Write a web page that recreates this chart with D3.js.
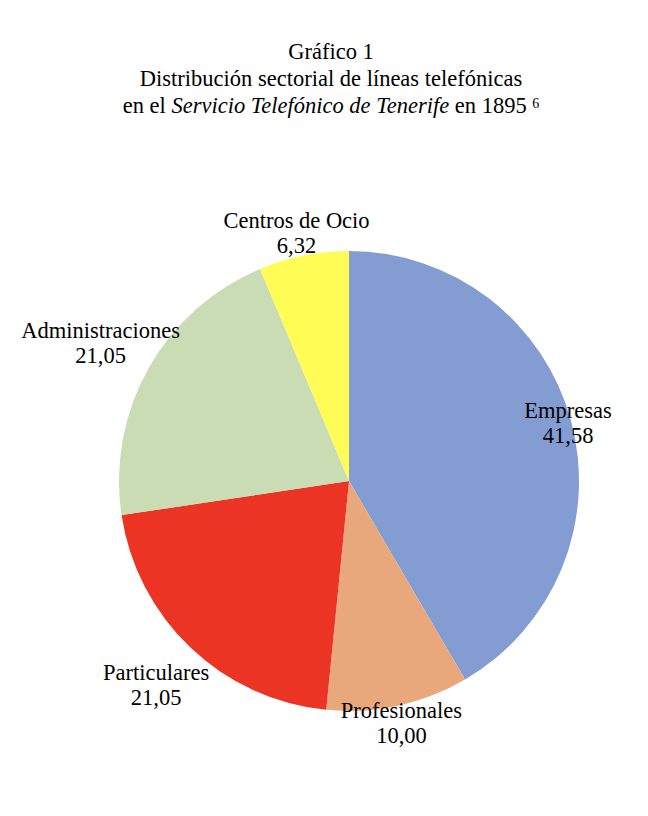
<!DOCTYPE html>
<html>
<head>
<meta charset="utf-8">
<script src="https://cdn.jsdelivr.net/npm/d3@7"></script>
<style>
  body { margin: 0; background: #fff; }
  text { font-family: "Liberation Serif", "Times New Roman", serif; fill: #000; }
</style>
</head>
<body>
<svg id="chart"></svg>
<script>
// data
var categories = ['Empresas', 'Profesionales', 'Particulares', 'Administraciones', 'Centros de Ocio'];
var values = [41.58, 10.00, 21.05, 21.05, 6.32];
var valueLabels = ['41,58', '10,00', '21,05', '21,05', '6,32'];
var colors = ['#839cd2', '#e8a87b', '#eb3424', '#c9dcb4', '#fffc55'];

// layout
var width = 648, height = 816;
var cx = 349, cy = 481, radius = 230;
var fontSize = 22.5;
// label distance from centre per slice, plus small nudges (Excel "best fit" look)
var labelRadius = [227, 246, 287, 285, 256];
var labelShift = [[0, 0], [0, 0], [5, -6], [0, 0], [-2, 1]];

var svg = d3.select('#chart')
    .attr('width', width)
    .attr('height', height);

// title
var title = svg.append('g')
    .attr('text-anchor', 'middle')
    .style('font-size', fontSize + 'px');

title.append('text').attr('x', 331).attr('y', 59).text('Gráfico 1');
title.append('text').attr('x', 331).attr('y', 86).text('Distribución sectorial de líneas telefónicas');
var t3 = title.append('text').attr('x', 331).attr('y', 113);
t3.append('tspan').text('en el ');
t3.append('tspan').style('font-style', 'italic').text('Servicio Telefónico de Tenerife');
t3.append('tspan').text(' en 1895 ');
t3.append('tspan').style('font-size', '14px').attr('dy', -5).text('6');

var data = categories.map(function (c, i) {
    return { name: c, value: values[i], label: valueLabels[i], color: colors[i] };
});

var pie = d3.pie()
    .sort(null)
    .value(function (d) { return d.value; });

var arc = d3.arc()
    .innerRadius(0)
    .outerRadius(radius);

var g = svg.append('g')
    .attr('transform', 'translate(' + cx + ',' + cy + ')');

var arcs = pie(data);

g.selectAll('path')
    .data(arcs)
    .enter()
    .append('path')
    .attr('d', arc)
    .attr('fill', function (d) { return d.data.color; });

var labels = g.selectAll('text.lbl')
    .data(arcs)
    .enter()
    .append('text')
    .attr('class', 'lbl')
    .attr('text-anchor', 'middle')
    .style('font-size', fontSize + 'px')
    .attr('transform', function (d, i) {
        var a = (d.startAngle + d.endAngle) / 2;
        var r = labelRadius[i];
        var x = Math.sin(a) * r + labelShift[i][0];
        var y = -Math.cos(a) * r + labelShift[i][1];
        return 'translate(' + x + ',' + y + ')';
    });

labels.append('tspan')
    .attr('x', 0)
    .attr('dy', -3.4)
    .text(function (d) { return d.data.name; });

labels.append('tspan')
    .attr('x', 0)
    .attr('dy', 25)
    .text(function (d) { return d.data.label; });
</script>
</body>
</html>
